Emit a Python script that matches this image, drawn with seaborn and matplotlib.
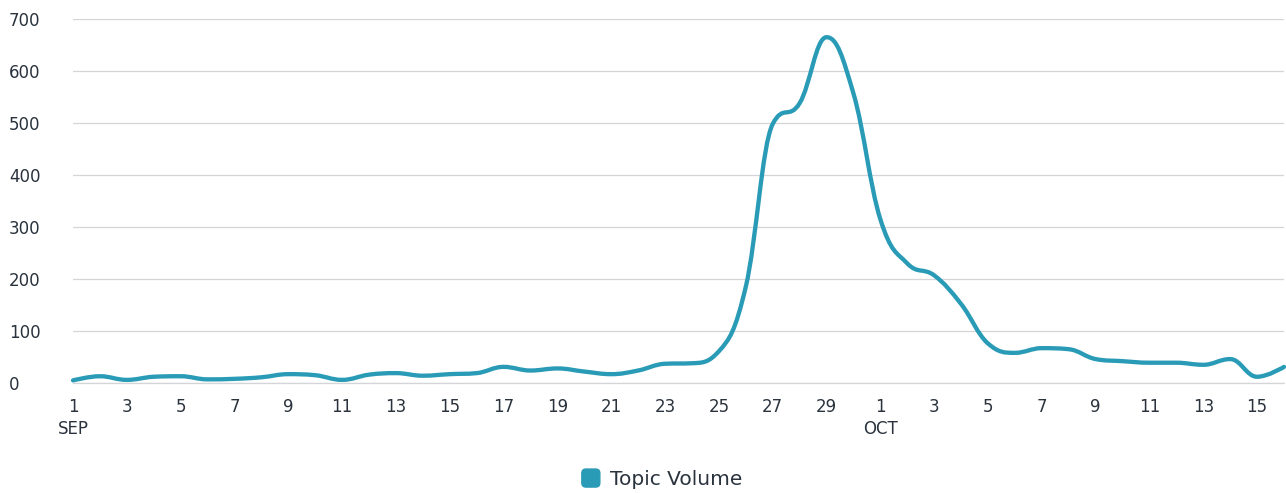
import numpy as np
import pandas as pd
import matplotlib
matplotlib.use("Agg")
import matplotlib.pyplot as plt
import matplotlib.transforms as mtransforms
from matplotlib.path import Path
from matplotlib.patches import PathPatch, FancyBboxPatch, Patch
from matplotlib.legend_handler import HandlerPatch
import seaborn as sns

# Daily topic volume, 1 Sep - 16 Oct
sep_days = list(range(1, 31))
oct_days = list(range(1, 17))
sep_volume = [5, 13, 6, 12, 13, 7, 8, 11, 17, 15,
              6, 16, 19, 14, 17, 19, 31, 24, 28, 22,
              17, 24, 37, 38, 61, 185, 498, 538, 665, 557]
oct_volume = [315, 230, 207, 152, 76, 58, 67, 65, 46, 42,
              39, 39, 35, 46, 12, 31]
month_labels = ["SEP", "OCT"]
y_ticks = [0, 100, 200, 300, 400, 500, 600, 700]
series_name = "Topic Volume"

LINE = "#2a9bb6"
TEXT = "#2a333d"
GRID = "#d3d5d8"

df = pd.DataFrame({
    "month": ["SEP"] * len(sep_days) + ["OCT"] * len(oct_days),
    "day": sep_days + oct_days,
    "volume": sep_volume + oct_volume,
})
df["idx"] = np.arange(len(df))

sns.set_theme(style="white")
plt.rcParams["font.family"] = ["DejaVu Sans"]

fig = plt.figure(figsize=(12.86, 4.93), dpi=100)
ax = fig.add_axes([73 / 1286, 1 - 383 / 493, (1284 - 73) / 1286, (383 - 19) / 493])


def spline_path(xs, ys, smoothing=1.5):
    """Cubic Bezier path through every point (Highcharts-style spline)."""
    n = len(xs)
    left = [None] * n
    right = [None] * n
    denom = smoothing + 1
    for i in range(1, n - 1):
        px, py = xs[i], ys[i]
        lx, ly = xs[i - 1], ys[i - 1]
        nx, ny = xs[i + 1], ys[i + 1]
        lcx = (smoothing * px + lx) / denom
        lcy = (smoothing * py + ly) / denom
        rcx = (smoothing * px + nx) / denom
        rcy = (smoothing * py + ny) / denom
        corr = ((rcy - lcy) * (rcx - px)) / (rcx - lcx) + py - rcy
        lcy += corr
        rcy += corr
        if lcy > ly and lcy > py:
            lcy = max(ly, py); rcy = 2 * py - lcy
        elif lcy < ly and lcy < py:
            lcy = min(ly, py); rcy = 2 * py - lcy
        if rcy > ny and rcy > py:
            rcy = max(ny, py); lcy = 2 * py - rcy
        elif rcy < ny and rcy < py:
            rcy = min(ny, py); lcy = 2 * py - rcy
        left[i] = (lcx, lcy)
        right[i] = (rcx, rcy)
    verts = [(xs[0], ys[0])]
    codes = [Path.MOVETO]
    for i in range(1, n):
        c1 = right[i - 1] if right[i - 1] is not None else (xs[i - 1], ys[i - 1])
        c2 = left[i] if left[i] is not None else (xs[i], ys[i])
        verts += [c1, c2, (xs[i], ys[i])]
        codes += [Path.CURVE4] * 3
    return Path(verts, codes)


# Data layer through seaborn sets the scales; the smooth spline is drawn over it
sns.lineplot(data=df, x="idx", y="volume", ax=ax, color=LINE, lw=0, legend=False)
path = spline_path(df["idx"].to_numpy(float), df["volume"].to_numpy(float))
ax.add_patch(PathPatch(path, facecolor="none", edgecolor=LINE, lw=3.1,
                       capstyle="round", joinstyle="round", clip_on=False, zorder=3))

ax.set_xlim(0, len(df) - 1)
ax.set_ylim(0, 700)
ax.set_yticks(y_ticks)
ax.set_yticklabels([str(v) for v in y_ticks])
for lab in ax.get_yticklabels():
    lab.set_horizontalalignment("left")
ax.tick_params(axis="y", length=0, pad=46, labelsize=12, labelcolor=TEXT)

tick_idx = df["idx"][::2].to_numpy()
ax.set_xticks(tick_idx)
ax.set_xticklabels([str(d) for d in df["day"][::2]])
ax.tick_params(axis="x", length=0, pad=11, labelsize=12, labelcolor=TEXT)

ax.grid(axis="y", color=GRID, lw=0.9)
ax.grid(axis="x", visible=False)
ax.axhline(0, color=GRID, lw=0.9, clip_on=False, zorder=0.5)
for s in ax.spines.values():
    s.set_visible(False)
ax.set_xlabel("")
ax.set_ylabel("")

# Month names under the first day of each month
trans = mtransforms.blended_transform_factory(ax.transData, ax.transAxes)
for m in month_labels:
    first = df.loc[(df["month"] == m) & (df["day"] == 1), "idx"].iloc[0]
    ax.text(first, -0.125, m, transform=trans, ha="center", va="center",
            fontsize=12, color=TEXT)


def rounded_square(legend, orig_handle, xdescent, ydescent, width, height, fontsize):
    side = height * 1.0
    return FancyBboxPatch((width - side - xdescent, -ydescent + (height - side) / 2),
                          side, side, boxstyle="round,pad=0,rounding_size=3")


handle = Patch(facecolor=LINE, edgecolor=LINE, label=series_name)
fig.legend(handles=[handle], loc="center", bbox_to_anchor=(661 / 1286, 1 - 479 / 493),
           frameon=False, fontsize=14.5, labelcolor=TEXT, handlelength=1.0,
           handleheight=1.0, handletextpad=0.5,
           handler_map={Patch: HandlerPatch(patch_func=rounded_square)})

fig.savefig("out.png", dpi=100, facecolor="white")
